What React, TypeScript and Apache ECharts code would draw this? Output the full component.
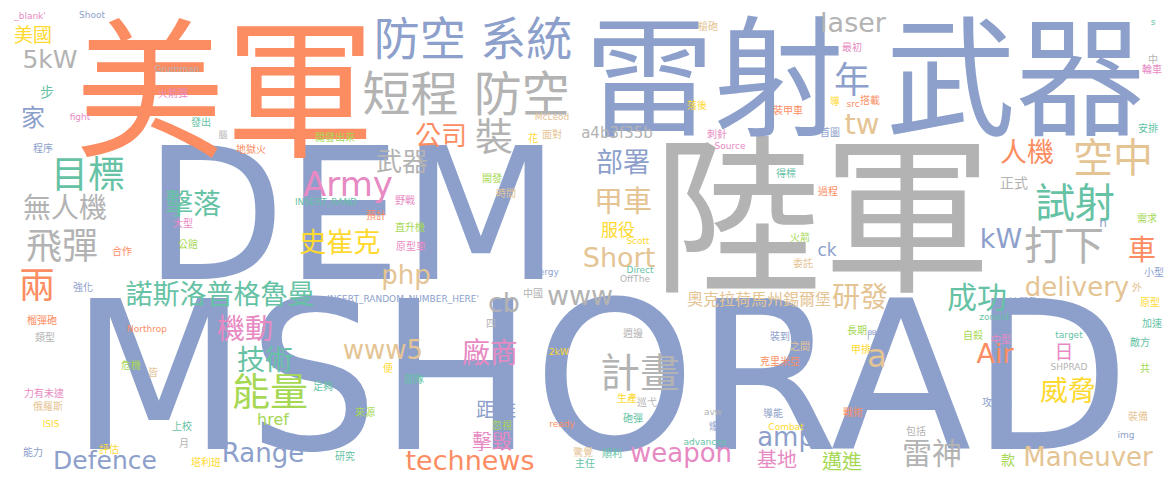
import React, { useEffect, useRef } from "react";
import * as echarts from "echarts";

// Set2-like palette used by the word cloud
const PALETTE = ["#66c2a5", "#fc8d62", "#8da0cb", "#e78ac3", "#a6d854", "#ffd92f", "#e5c494", "#b3b3b3"];

// word, x, y (in chart coordinate units), font size (weight), colour group
const WORDS = [
  "MSHORAD", "DEM", "陸軍", "雷射 武器", "美軍", "短程 防空", "防空 系統", "目標", "能量", "計畫",
  "空中", "試射", "打下", "飛彈", "兩", "年", "裝", "Army", "諾斯洛普格魯曼", "無人機",
  "擊落", "史崔克", "機動", "技術", "Defence", "Range", "5kW", "家", "美國", "公司",
  "武器", "laser", "tw", "部署", "甲車", "服役", "Short", "cb", "www", "php",
  "www5", "廠商", "technews", "weapon", "amp", "基地", "邁進", "奧克拉荷馬州錫爾堡", "研發", "ck",
  "kW", "人機", "正式", "車", "delivery", "成功", "Air", "日", "威脅", "雷神",
  "Maneuver", "a", "距離", "擊毀", "href", "a4b3f35b", "款", "步", "n",
  "_blank'", "Shoot", "Grumman", "火箭彈", "fight", "發出", "腦", "程序", "地獄火", "大型",
  "INSERT_RAND", "合作", "公館", "強化", "榴彈砲", "類型", "Northrop", "達", "危機", "皆",
  "力有未逮", "俄羅斯", "ISIS", "上校", "月", "能力", "評估", "塔利班", "McLeod", "開發出來",
  "花", "面對", "開發", "時間", "野戰", "預計", "直升機", "原型車", "槍砲", "最初",
  "導", "src", "搭載", "落後", "裝甲車", "首圖", "刺針", "Source", "得標", "過程",
  "火箭", "Scott", "Energy", "Direct", "OffThe", "中國", "委託", "s", "中", "輪車",
  "安排", "需求", "小型", "外", "迫擊砲", "原型", "zoneid", "加速", "自殺", "中型",
  "target", "敵方", "SHPRAD", "共", "攻擊機", "裝備", "包括", "img", "週邊", "裝到",
  "長期", "門", "之間", "甲排", "克里米亞", "生產", "巡弋", "avw", "導能", "戰術",
  "砲彈", "爆發", "Combat", "advances", "驚覺", "順利", "主任", "INSERT_RANDOM_NUMBER_HERE'", "四", "2kW",
  "便", "部隊", "足夠", "來源", "忽視", "ready", "研究",
];

const WORD_X = [
  600, 352, 822, 865, 225, 466, 473, 88, 270, 640,
  1113, 1075, 1064, 62, 37, 852, 494, 348, 220, 65,
  193, 340, 245, 265, 105, 263, 50, 33, 33, 441,
  402, 853, 862, 623, 623, 618, 619, 504, 580, 406,
  383, 490, 470, 681, 786, 777, 842, 759, 860, 827,
  1001, 1027, 1014, 1142, 1077, 977, 995, 1064, 1068, 932,
  1088, 877, 496, 492, 273, 617, 1008, 47, 1103,
  30, 92, 177, 173, 80, 201, 223, 43, 251, 183,
  326, 122, 188, 83, 42, 45, 147, 130, 131, 153,
  44, 48, 51, 182, 184, 33, 109, 206, 552, 335,
  533, 552, 492, 506, 405, 376, 410, 411, 708, 852,
  835, 853, 870, 697, 788, 830, 717, 730, 786, 828,
  800, 638, 543, 640, 635, 533, 803, 1153, 1153, 1152,
  1148, 1147, 1154, 1137, 1024, 1150, 994, 1152, 973, 1001,
  1069, 1140, 1069, 1145, 997, 1138, 916, 1126, 633, 780,
  857, 872, 800, 861, 780, 627, 647, 713, 773, 853,
  633, 719, 786, 705, 583, 612, 585, 403, 491, 559,
  388, 414, 323, 365, 502, 562, 345,
];

const WORD_Y = [
  378, 215, 220, 80, 93, 94, 39, 175, 392, 373,
  158, 203, 246, 246, 285, 80, 137, 184, 294, 208,
  204, 242, 329, 360, 460, 453, 59, 118, 35, 136,
  162, 22, 124, 162, 202, 230, 257, 302, 295, 275,
  350, 353, 460, 453, 437, 460, 462, 299, 297, 250,
  238, 152, 183, 250, 287, 297, 353, 352, 391, 453,
  457, 356, 410, 442, 419, 133, 460, 92, 223,
  16, 15, 69, 93, 117, 122, 135, 148, 149, 223,
  202, 251, 244, 287, 320, 337, 329, 350, 365, 372,
  393, 406, 424, 426, 443, 452, 449, 462, 117, 137,
  138, 134, 178, 193, 200, 215, 227, 246, 26, 47,
  101, 104, 100, 105, 110, 132, 134, 146, 173, 191,
  237, 241, 272, 270, 279, 293, 263, 22, 59, 69,
  128, 218, 272, 287, 302, 302, 317, 323, 335, 339,
  335, 342, 367, 368, 402, 416, 431, 435, 333, 336,
  330, 335, 346, 349, 361, 398, 402, 412, 413, 412,
  418, 426, 427, 442, 452, 453, 463, 299, 323, 352,
  368, 379, 386, 412, 425, 424, 456,
];

const WORD_SIZE = [
  206, 184, 170, 130, 150, 48, 46, 37, 38, 40,
  40, 40, 40, 36, 36, 36, 38, 34, 27, 28,
  28, 27, 28, 28, 25, 26, 25, 24, 19, 26,
  26, 27, 29, 27, 29, 17, 27, 27, 27, 26,
  26, 28, 27, 26, 26, 20, 20, 16, 28, 17,
  27, 27, 14, 28, 26, 30, 27, 19, 28, 30,
  26, 32, 20, 20, 16, 15, 14, 14, 12,
  9, 9, 9, 10, 9, 10, 9, 10, 10, 10,
  9, 10, 10, 10, 10, 10, 9, 10, 10, 10,
  10, 10, 9, 10, 10, 10, 10, 10, 9, 10,
  10, 10, 10, 10, 10, 10, 10, 10, 10, 10,
  10, 9, 10, 10, 10, 10, 10, 9, 10, 10,
  10, 9, 9, 9, 9, 10, 10, 9, 10, 10,
  10, 10, 10, 10, 10, 10, 9, 10, 10, 10,
  9, 10, 9, 10, 10, 10, 10, 9, 10, 10,
  10, 10, 10, 10, 10, 10, 10, 9, 10, 10,
  10, 10, 9, 9, 10, 10, 10, 9, 10, 9,
  10, 10, 10, 10, 10, 9, 10,
];

const WORD_GROUP = [
  2, 2, 7, 2, 1, 7, 2, 0, 4, 7,
  6, 0, 7, 7, 1, 2, 7, 3, 0, 7,
  0, 5, 3, 0, 2, 2, 7, 2, 5, 1,
  7, 7, 6, 2, 6, 5, 6, 7, 7, 6,
  6, 3, 1, 3, 2, 3, 4, 6, 6, 2,
  2, 1, 7, 1, 6, 0, 1, 3, 5, 7,
  6, 6, 2, 3, 4, 7, 4, 0, 2,
  3, 2, 7, 3, 3, 0, 7, 2, 1, 3,
  0, 1, 4, 2, 1, 7, 1, 2, 4, 6,
  3, 6, 5, 0, 7, 2, 5, 5, 6, 4,
  5, 6, 4, 6, 3, 1, 4, 3, 6, 3,
  5, 1, 1, 5, 1, 2, 3, 3, 0, 1,
  4, 5, 2, 0, 7, 7, 6, 0, 7, 3,
  0, 4, 2, 6, 2, 5, 0, 0, 4, 3,
  0, 0, 7, 4, 2, 6, 7, 2, 7, 2,
  4, 2, 6, 5, 1, 5, 7, 7, 2, 1,
  0, 2, 5, 0, 6, 0, 0, 2, 7, 5,
  5, 0, 0, 4, 4, 1, 0,
];

const FONT = "'DejaVu Sans', 'Noto Sans CJK TC', sans-serif";

export default function App() {
  const ref = useRef<HTMLDivElement>(null);

  useEffect(() => {
    if (!ref.current) return;
    const chart = echarts.init(ref.current, undefined, { renderer: "svg" });
    const data = WORDS.map((w, i) => [WORD_X[i], WORD_Y[i], WORD_SIZE[i], WORD_GROUP[i]]);
    chart.setOption({
      animation: false,
      backgroundColor: "#ffffff",
      grid: { left: 0, right: 0, top: 0, bottom: 0 },
      xAxis: { type: "value", min: 0, max: 1175, show: false },
      yAxis: { type: "value", min: 0, max: 482, inverse: true, show: false },
      series: [
        {
          type: "custom",
          clip: false,
          encode: { x: 0, y: 1 },
          data,
          renderItem: (params: any, api: any) => {
            const p = api.coord([api.value(0), api.value(1)]);
            const size = api.value(2) as number;
            const group = api.value(3) as number;
            return {
              type: "text",
              x: p[0],
              y: p[1],
              style: {
                text: WORDS[params.dataIndex],
                fill: PALETTE[group],
                fontSize: size,
                fontFamily: FONT,
                fontWeight: "normal",
                align: "center",
                verticalAlign: "middle",
              },
            };
          },
        },
      ],
    });
    return () => chart.dispose();
  }, []);

  return (
    <div
      ref={ref}
      style={{ position: "fixed", left: 0, top: 0, width: 1175, height: 482, background: "#fff" }}
    />
  );
}
